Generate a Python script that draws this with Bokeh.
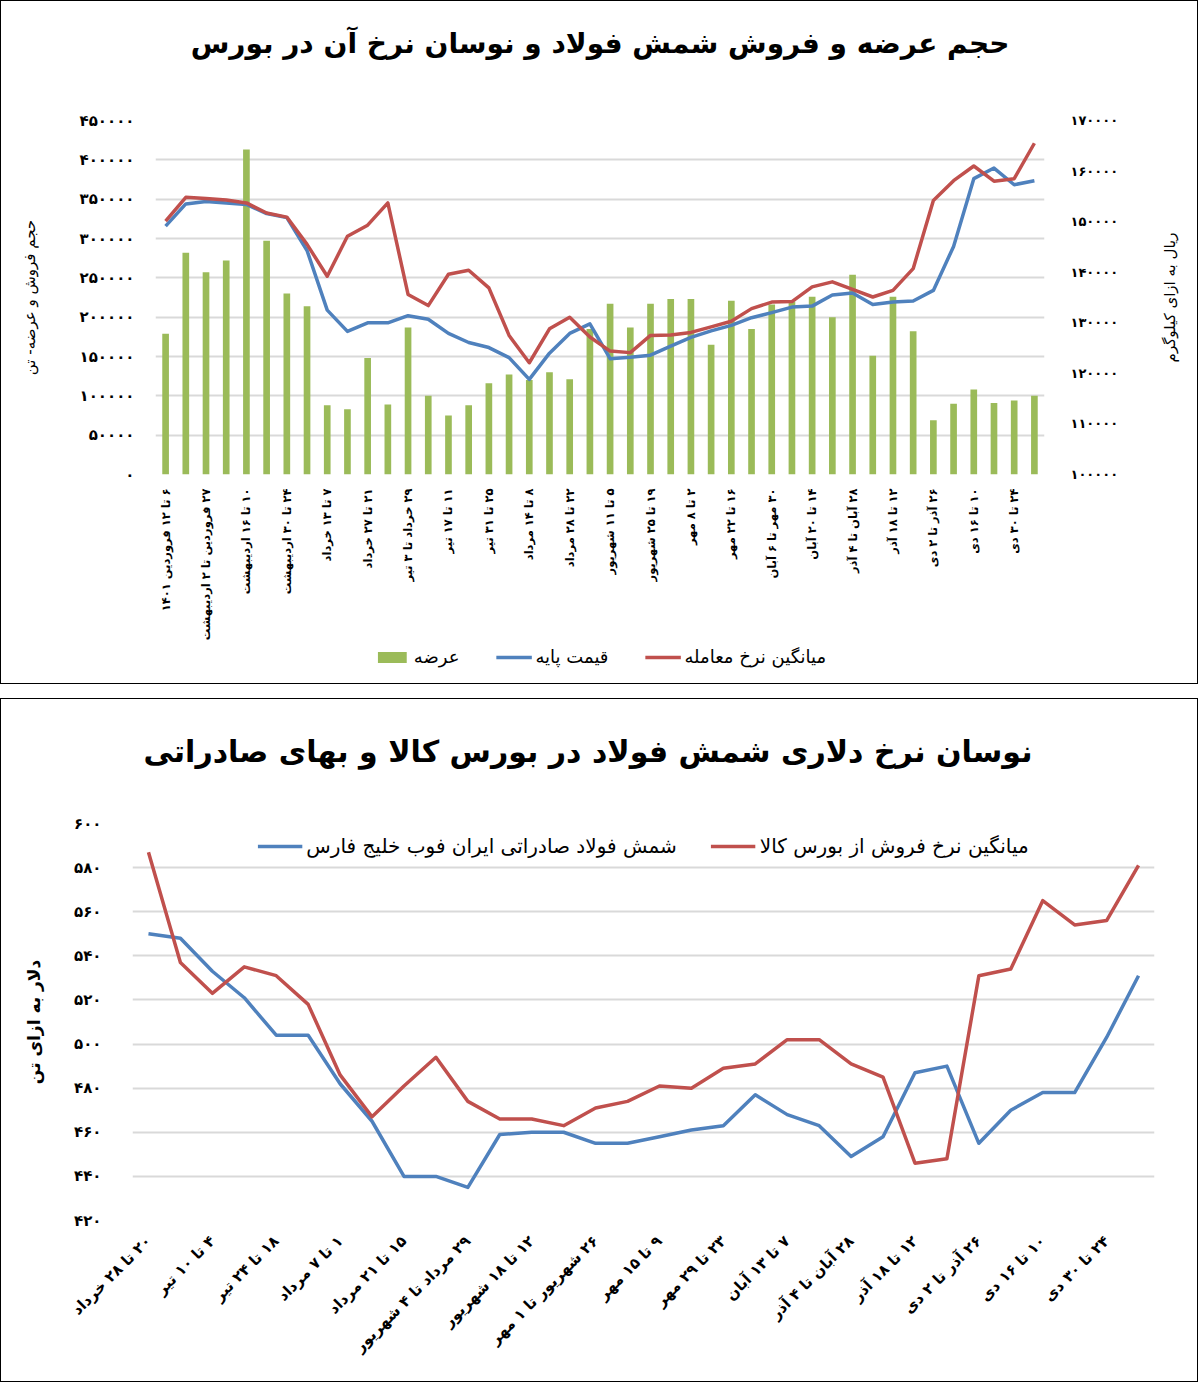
import math
from bokeh.plotting import figure
from bokeh.models import (ColumnDataSource, Range1d, LinearAxis, FixedTicker,
                          Legend, LegendItem, Title)
from bokeh.layouts import column, row
from bokeh.embed import file_html
from bokeh.resources import INLINE

FA_DIGITS = str.maketrans("0123456789", "۰۱۲۳۴۵۶۷۸۹")


def fa(n):
    return str(n).translate(FA_DIGITS)


def rtl(s):
    # right-to-left embedding so that numbers stay in their Persian reading order
    return "\u202b" + s + "\u202c"


# ---- chart 1: weekly supply (tons) and prices (rial/kg)
week_labels = [
    "۶ تا ۱۲ فروردین ۱۴۰۱", "۲۷ فروردین تا ۲ اردیبهشت", "۱۰ تا ۱۶ اردیبهشت",
    "۲۴ تا ۳۰ اردیبهشت", "۷ تا ۱۳ خرداد", "۲۱ تا ۲۷ خرداد", "۲۹ خرداد تا ۳ تیر",
    "۱۱ تا ۱۷ تیر", "۲۵ تا ۳۱ تیر", "۸ تا ۱۴ مرداد", "۲۲ تا ۲۸ مرداد",
    "۵ تا ۱۱ شهریور", "۱۹ تا ۲۵ شهریور", "۲ تا ۸ مهر", "۱۶ تا ۲۲ مهر",
    "۳۰ مهر تا ۶ آبان", "۱۴ تا ۲۰ آبان", "۲۸ آبان تا ۴ آذر", "۱۲ تا ۱۸ آذر",
    "۲۶ آذر تا ۲ دی", "۱۰ تا ۱۶ دی", "۲۴ تا ۳۰ دی",
]
supply = [179000, 282000, 257000, 272000, 413000, 297000, 230000, 214000,
          88000, 83000, 148000, 89000, 187000, 100000, 75000, 88000,
          116000, 127000, 120000, 130000, 121000, 185000, 217000, 187000,
          217000, 223000, 223000, 165000, 221000, 185000, 216000, 220000,
          226000, 200000, 254000, 151000, 226000, 182000, 69000, 90000,
          108000, 91000, 94000, 100000]
base_price = [149100, 153500, 154000, 153700, 153400, 151600, 150800, 144300,
              132500, 128300, 130000, 130000, 131400, 130700, 127900, 126100,
              125100, 123100, 118800, 124000, 127900, 129800, 122900, 123200,
              123600, 125400, 127100, 128400, 129500, 131000, 132000, 133100,
              133300, 135500, 135900, 133600, 134100, 134300, 136400, 145100,
              158500, 160600, 157300, 158100]
avg_price = [150100, 154800, 154600, 154300, 153700, 151700, 150900, 145500,
             139200, 147100, 149300, 153700, 135600, 133400, 139600, 140400,
             136900, 127500, 122100, 128800, 131100, 127200, 124400, 124100,
             127500, 127600, 128100, 129200, 130300, 132800, 134100, 134200,
             137100, 138100, 136600, 135100, 136400, 140700, 154200, 158100,
             161000, 158000, 158500, 165500]
supply_ticks = list(range(0, 450001, 50000))
price_ticks = list(range(100000, 170001, 10000))

# ---- chart 2: dollar prices (USD/ton)
usd_labels = [
    "۲۰ تا ۲۸ خرداد", "۴ تا ۱۰ تیر", "۱۸ تا ۲۴ تیر", "۱ تا ۷ مرداد",
    "۱۵ تا ۲۱ مرداد", "۲۹ مرداد تا ۴ شهریور", "۱۲ تا ۱۸ شهریور",
    "۲۶ شهریور تا ۱ مهر", "۹ تا ۱۵ مهر", "۲۳ تا ۲۹ مهر", "۷ تا ۱۳ آبان",
    "۲۸ آبان تا ۴ آذر", "۱۲ تا ۱۸ آذر", "۲۶ آذر تا ۲ دی", "۱۰ تا ۱۶ دی",
    "۲۴ تا ۳۰ دی",
]
export_fob = [550, 548, 533, 521, 504, 504, 482, 465, 440, 440, 435, 459,
              460, 460, 455, 455, 458, 461, 463, 477, 468, 463, 449, 458,
              487, 490, 455, 470, 478, 478, 503, 531]
bourse_usd = [587, 537, 523, 535, 531, 518, 486, 467, 481, 494, 474, 466,
              466, 463, 471, 474, 481, 480, 489, 491, 502, 502, 491, 485,
              446, 448, 531, 534, 565, 554, 556, 581]
usd_ticks = list(range(420, 601, 20))

FONT = "DejaVu Sans"
GREEN, BLUE, RED = "#9bbb59", "#4f81bd", "#c0504d"
GRID = "#d9d9d9"
EDGE = "1px solid black"


def style_common(p):
    p.xgrid.visible = False
    p.ygrid.grid_line_color = GRID
    p.ygrid.grid_line_width = 2
    p.outline_line_color = None
    for ax in p.axis:
        ax.axis_line_color = None
        ax.major_tick_line_color = None
        ax.minor_tick_line_color = None
        ax.major_label_text_font = FONT
        ax.major_label_text_font_style = "bold"
        ax.major_label_text_color = "black"
        ax.axis_label_text_font = FONT
        ax.axis_label_text_font_style = "normal"
        ax.axis_label_text_color = "black"


def add_heading(p, text, size, align, offset, gap):
    # a blank spacer between the frame and the heading, then the heading itself
    p.add_layout(Title(text=" ", text_font_size="10px", standoff=gap), "above")
    p.add_layout(Title(text=rtl(text), text_font=FONT, text_font_size=size,
                       text_font_style="bold", text_color="black",
                       align=align, offset=offset, standoff=0), "above")


# ================= chart 1
n1 = len(supply)
src1 = ColumnDataSource(dict(x=list(range(n1)), supply=supply,
                             base=base_price, avg=avg_price))
p1 = figure(width=1148, height=644, x_range=Range1d(-0.5, n1 - 0.5),
            y_range=Range1d(0, 450000), tools="", toolbar_location=None,
            output_backend="svg", title=None,
            min_border_left=154, min_border_right=105,
            min_border_top=119, min_border_bottom=171,
            styles={"border-left": EDGE, "border-top": EDGE})
p1.extra_y_ranges = {"price": Range1d(100000, 170000)}
add_heading(p1, "حجم عرضه و فروش شمش فولاد و نوسان نرخ آن در بورس",
            "28px", "center", 0, 48)

right_ax = LinearAxis(y_range_name="price", ticker=FixedTicker(ticks=price_ticks))
p1.add_layout(right_ax, "right")

p1.vbar(x="x", top="supply", width=0.33, source=src1,
        fill_color=GREEN, line_color=None)
p1.line(x="x", y="base", source=src1, y_range_name="price",
        line_color=BLUE, line_width=3.5, line_join="round")
p1.line(x="x", y="avg", source=src1, y_range_name="price",
        line_color=RED, line_width=3.5, line_join="round")

style_common(p1)
p1.yaxis[0].ticker = FixedTicker(ticks=supply_ticks)
p1.ygrid.ticker = FixedTicker(ticks=supply_ticks)
p1.yaxis[0].major_label_overrides = {t: fa(t) for t in supply_ticks}
p1.yaxis[0].major_label_text_font_size = "15px"
p1.yaxis[0].major_label_standoff = 15
p1.yaxis[0].axis_label = rtl("حجم فروش و عرضه- تن")
p1.yaxis[0].axis_label_text_font_size = "15px"
p1.yaxis[0].axis_label_standoff = 38
right_ax.major_label_overrides = {t: fa(t) for t in price_ticks}
right_ax.major_label_text_font_size = "13px"
right_ax.major_label_standoff = 20

p1.xaxis.ticker = FixedTicker(ticks=list(range(0, n1, 2)))
p1.xaxis.major_label_overrides = {2 * i: rtl(lab) for i, lab in enumerate(week_labels)}
p1.xaxis.major_label_orientation = math.pi / 2
p1.xaxis.major_label_text_font_size = "11.5px"
p1.xaxis.major_label_standoff = 8

# unit title of the right-hand axis, read from top to bottom
unit = figure(width=50, height=644, tools="", toolbar_location=None,
              output_backend="svg", x_axis_location=None, y_axis_location=None,
              title=rtl("ریال به ازای کیلوگرم"), title_location="left",
              min_border_left=30, min_border_right=0,
              min_border_top=119, min_border_bottom=171,
              styles={"border-top": EDGE, "border-right": EDGE})
unit.grid.visible = False
unit.outline_line_color = None
unit.title.align = "center"
unit.title.standoff = 0
unit.title.text_font = FONT
unit.title.text_font_size = "15px"
unit.title.text_font_style = "normal"
unit.title.text_color = "black"

# key strip under chart 1; hidden copies of the series give the swatches
key1 = figure(width=1198, height=40, tools="", toolbar_location=None,
              output_backend="svg", x_axis_location=None, y_axis_location=None,
              min_border=0, outline_line_color=None,
              styles={"border-left": EDGE, "border-right": EDGE,
                      "border-bottom": EDGE})
key1.grid.visible = False
k_bar = key1.vbar(x="x", top="supply", width=0.33, source=src1,
                  fill_color=GREEN, line_color=None, visible=False)
k_base = key1.line(x="x", y="base", source=src1, line_color=BLUE,
                   line_width=3.5, visible=False)
k_avg = key1.line(x="x", y="avg", source=src1, line_color=RED,
                  line_width=3.5, visible=False)
legend1 = Legend(items=[LegendItem(label="عرضه", renderers=[k_bar]),
                        LegendItem(label="قیمت پایه", renderers=[k_base]),
                        LegendItem(label="میانگین نرخ معامله", renderers=[k_avg])],
                 orientation="horizontal", location="top_center",
                 glyph_width=36, glyph_height=14, label_standoff=4, spacing=36,
                 padding=0, margin=2, border_line_color=None,
                 background_fill_alpha=0, inactive_fill_alpha=0,
                 label_text_font=FONT, label_text_font_size="18px",
                 label_text_color="black")
key1.add_layout(legend1, "center")

# ================= chart 2
n2 = len(bourse_usd)
src2 = ColumnDataSource(dict(x=list(range(n2)), fob=export_fob, bourse=bourse_usd))
p2 = figure(width=1198, height=684, x_range=Range1d(-0.5, n2 - 0.5),
            y_range=Range1d(420, 600), tools="", toolbar_location=None,
            output_backend="svg", title=None,
            min_border_left=131, min_border_right=45,
            min_border_top=124, min_border_bottom=163,
            styles={"border": EDGE})
add_heading(p2, "نوسان نرخ دلاری شمش فولاد در بورس کالا و بهای صادراتی",
            "30px", "left", 11, 42)
l_fob = p2.line(x="x", y="fob", source=src2, line_color=BLUE, line_width=3.5,
                line_join="round")
l_bourse = p2.line(x="x", y="bourse", source=src2, line_color=RED,
                   line_width=3.5, line_join="round")

style_common(p2)
p2.yaxis.ticker = FixedTicker(ticks=usd_ticks)
p2.ygrid.ticker = FixedTicker(ticks=usd_ticks)
p2.yaxis.major_label_overrides = {t: fa(t) for t in usd_ticks}
p2.yaxis.major_label_text_font_size = "15px"
p2.yaxis.major_label_standoff = 25
p2.yaxis.axis_label = rtl("دلار به ازای تن")
p2.yaxis.axis_label_text_font_size = "17px"
p2.yaxis.axis_label_text_font_style = "bold"
p2.yaxis.axis_label_standoff = 27

p2.xaxis.ticker = FixedTicker(ticks=list(range(0, n2, 2)))
p2.xaxis.major_label_overrides = {2 * i: rtl(lab) for i, lab in enumerate(usd_labels)}
p2.xaxis.major_label_orientation = math.pi / 4
p2.xaxis.major_label_text_font_size = "15px"
p2.xaxis.major_label_standoff = 12

legend2 = Legend(items=[LegendItem(label="شمش فولاد صادراتی ایران فوب خلیج فارس",
                                   renderers=[l_fob]),
                        LegendItem(label="میانگین نرخ فروش از بورس کالا",
                                   renderers=[l_bourse])],
                 orientation="horizontal", location="top_center",
                 glyph_width=45, glyph_height=16, label_standoff=4, spacing=34,
                 padding=0, margin=11, border_line_color=None,
                 background_fill_alpha=0, label_text_font=FONT,
                 label_text_font_size="20px", label_text_color="black")
p2.add_layout(legend2, "center")

top_box = column(row(p1, unit, spacing=0), key1, spacing=0)
layout = column(row(top_box), row(p2), spacing=14)
open("out.html", "w").write(file_html(layout, INLINE))
